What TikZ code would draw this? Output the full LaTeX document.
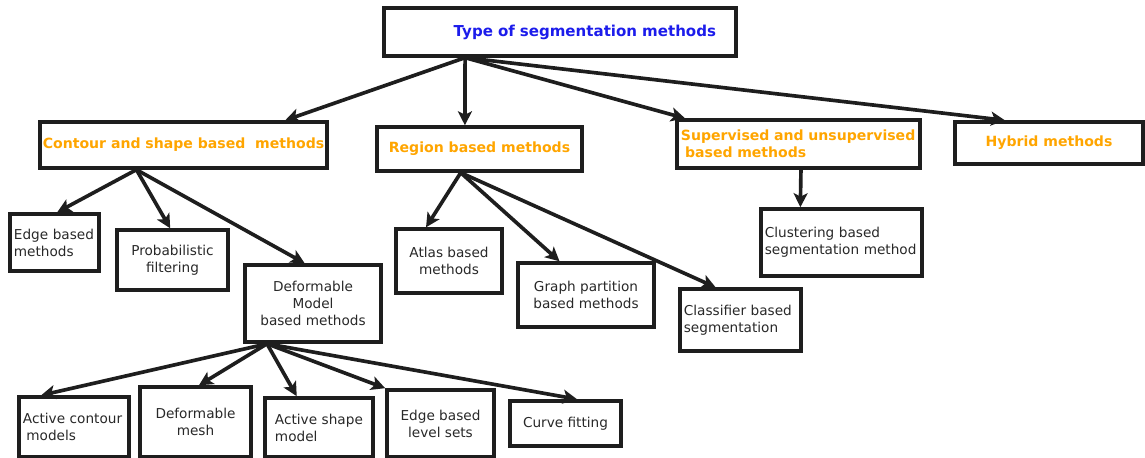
\documentclass[tikz,border=0pt]{standalone}
\usepackage{fontspec}
\setmainfont{DejaVu Sans}
\usetikzlibrary{arrows.meta,calc}
\definecolor{linegray}{RGB}{30,30,30}
\definecolor{textgray}{RGB}{40,40,40}
\definecolor{titleblue}{RGB}{28,28,235}
\definecolor{headorange}{RGB}{255,165,0}
\begin{document}
\begin{tikzpicture}[x=0.025cm,y=-0.025cm,font=\fontsize{9.7}{12}\selectfont,>={Stealth[length=10pt,width=10pt,inset=2.5pt]}]
    \tikzset{
        topbox/.style={
            draw=linegray,line width=2.4pt,minimum height=1.2cm,
            inner xsep=0.5cm,text width=7.8cm,align=right,
            text=titleblue,font=\fontsize{10.7}{12}\selectfont\bfseries
        },
        catbox/.style={
            draw=linegray,line width=2.4pt,align=center,inner xsep=1pt,
            text=headorange,font=\fontsize{10}{12}\selectfont\bfseries
        },
        leaf/.style={
            draw=linegray,line width=2.4pt,align=center,inner xsep=0.1cm,
            text=textgray
        },
        leafl/.style={leaf,align=left},
        flow/.style={->,line width=2.6pt,draw=linegray}
    }

    \useasboundingbox (0,0) rectangle (1145,458);

    \node[topbox] (root) at (560,32) {Type of segmentation methods};

    \node[catbox,minimum width=7.18cm,minimum height=1.15cm] (contour) at (183.5,145)
        {Contour and shape based\ \ methods};
    \node[catbox,minimum width=5.13cm,minimum height=1.1cm] (region) at (479.5,149)
        {Region based methods};
    \node[catbox,minimum height=1.2cm,align=left,text width=5.88cm,inner xsep=0.1cm] (superv) at (798.5,144)
        {Supervised and unsupervised\\\hspace*{0.3em}based methods};
    \node[catbox,minimum width=4.7cm,minimum height=1.05cm] (hybrid) at (1049,143)
        {Hybrid methods};

    \node[leafl,text width=2.03cm,minimum height=1.43cm] (edge) at (54.5,242.5) {Edge based\\methods};
    \node[leaf,minimum width=2.78cm,minimum height=1.5cm] (prob) at (172.5,260) {Probabilistic\\filtering};
    \node[leaf,minimum width=3.4cm,minimum height=1.93cm] (deform) at (313,303.5) {Deformable\\Model\\based methods};
    \node[leaf,minimum width=2.65cm,minimum height=1.6cm] (atlas) at (449,261) {Atlas based\\methods};
    \node[leaf,minimum width=3.4cm,minimum height=1.6cm] (graph) at (586,295) {Graph partition\\based methods};
    \node[leafl,text width=2.83cm,minimum height=1.55cm] (classif) at (740.5,320) {Classifier based\\segmentation};
    \node[leafl,text width=3.83cm,minimum height=1.68cm] (cluster) at (841.5,242.5) {Clustering based\\segmentation method};

    \node[leafl,text width=2.55cm,minimum height=1.5cm] (activec) at (74,427) {Active contour\\\hspace*{0.25em}models};
    \node[leaf,minimum width=2.78cm,minimum height=1.75cm] (mesh) at (195.5,422) {Deformable\\mesh};
    \node[leafl,text width=2.2cm,inner xsep=0.25cm,minimum height=1.48cm] (ashape) at (319,427.5) {Active shape\\model};
    \node[leaf,minimum width=2.68cm,minimum height=1.68cm] (levels) at (440.5,423.5) {Edge based\\level sets};
    \node[leaf,minimum width=2.78cm,minimum height=1.13cm] (curve) at (565.5,423.5) {Curve fitting};

    % fan points under each parent
    \coordinate (rootfan) at ($(root.south west)!0.233!(root.south east)$);
    \coordinate (contourfan) at ($(contour.south west)!0.338!(contour.south east)$);
    \coordinate (regionfan) at ($(region.south west)!0.41!(region.south east)$);
    \coordinate (supervfan) at ($(superv.south west)!0.51!(superv.south east)$);
    \coordinate (deformfan) at ($(deform.south west)!0.17!(deform.south east)$);

    \foreach \n/\f in {contour/0.85,region/0.43,superv/0.04,hybrid/0.27}
        \draw[flow] (rootfan) -- ($(\n.north west)!\f!(\n.north east)$);
    \foreach \n/\f in {edge/0.53,prob/0.48,deform/0.44}
        \draw[flow] (contourfan) -- ($(\n.north west)!\f!(\n.north east)$);
    \foreach \n/\f in {atlas/0.29,graph/0.31,classif/0.3}
        \draw[flow] (regionfan) -- ($(\n.north west)!\f!(\n.north east)$);
    \draw[flow] (supervfan) -- ($(cluster.north west)!0.25!(cluster.north east)$);
    \foreach \n/\f in {activec/0.21,mesh/0.53,ashape/0.3,levels/0.0,curve/0.6}
        \draw[flow] (deformfan) -- ($(\n.north west)!\f!(\n.north east)$);
\end{tikzpicture}
\end{document}
